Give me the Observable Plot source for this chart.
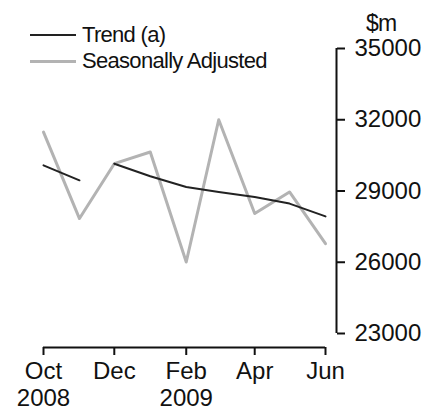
<!DOCTYPE html>
<html>
<head>
<meta charset="utf-8">
<script src="https://cdn.jsdelivr.net/npm/d3@7"></script>
<script src="https://cdn.jsdelivr.net/npm/@observablehq/plot@0.6"></script>
<style>
  body { margin: 0; background: #fff; }
  #wrap { position: relative; width: 425px; height: 414px; font-family: "Liberation Sans", Arial, sans-serif; }
  .leg { position: absolute; left: 30px; font-size: 22px; color: #111; letter-spacing: -0.7px; line-height: 1; display: flex; align-items: center; }
  .leg span.sw { display: inline-block; width: 46px; margin-right: 6px; }
  #unit { position: absolute; left: 366px; top: 10px; font-size: 23px; color: #111; letter-spacing: -0.8px; }
</style>
</head>
<body>
<div id="wrap">
  <div class="leg" style="top:24px"><span class="sw" style="border-top:2px solid #222"></span>Trend (a)</div>
  <div class="leg" style="top:50px"><span class="sw" style="border-top:3px solid #b3b3b3"></span>Seasonally Adjusted</div>
  <div id="unit">$m</div>
</div>
<script>
const months = ["2008-10", "2008-11", "2008-12", "2009-01", "2009-02", "2009-03", "2009-04", "2009-05", "2009-06"];
const seasonal = [31480, 27840, 30150, 30640, 26010, 32000, 28050, 28960, 26780];
const trend = [30080, 29450, 30150, 29620, 29170, 28960, 28750, 28470, 27930];
const trendSegment = [0, 0, 1, 1, 1, 1, 1, 1, 1];
const yTicks = [23000, 26000, 29000, 32000, 35000];
const xTickMonths = ["2008-10", "2008-12", "2009-02", "2009-04", "2009-06"];
const xTickLabels = ["Oct\n2008", "Dec", "Feb\n2009", "Apr", "Jun"];

const parse = d3.utcParse("%Y-%m");
const dates = months.map(parse);
const sa = dates.map((d, i) => ({date: d, value: seasonal[i]}));
const tr = dates.map((d, i) => ({date: d, value: trend[i], seg: trendSegment[i]}));
const xTicks = xTickMonths.map(parse);
const labelFor = new Map(xTicks.map((d, i) => [+d, xTickLabels[i]]));

const chart = Plot.plot({
  width: 425,
  height: 414,
  marginTop: 48,
  marginLeft: 43,
  marginRight: 89,
  marginBottom: 67,
  style: {fontFamily: "Liberation Sans, Arial, sans-serif", fontSize: "24px", color: "#111", background: "#fff"},
  x: {type: "utc", domain: [dates[0], dates[dates.length - 1]], range: [43, 325]},
  y: {domain: [23000, 35000], range: [333, 48]},
  marks: [
    Plot.axisY({anchor: "right", ticks: yTicks, tickFormat: d => String(d), tickSize: 8, tickPadding: 10, label: null, strokeWidth: 2, fontSize: 24, letterSpacing: -0.1}),
    Plot.axisX({anchor: "bottom", ticks: xTicks, tickFormat: d => labelFor.get(+d), tickSize: 8, tickPadding: 5, label: null, strokeWidth: 2, fontSize: 24, lineHeight: 1.1, letterSpacing: -0.7}),
    Plot.ruleY([23000], {x1: dates[0], x2: dates[dates.length - 1], dy: 14, stroke: "#111", strokeWidth: 2}),
    Plot.ruleX([dates[dates.length - 1]], {y1: 23000, y2: 35000, dx: 11, stroke: "#111", strokeWidth: 2}),
    Plot.lineY(sa, {x: "date", y: "value", stroke: "#b3b3b3", strokeWidth: 3}),
    Plot.lineY(tr, {x: "date", y: "value", z: "seg", stroke: "#222", strokeWidth: 2})
  ]
});
document.getElementById("wrap").prepend(chart);
chart.style.position = "absolute";
chart.style.left = "0";
chart.style.top = "0";
</script>
</body>
</html>
